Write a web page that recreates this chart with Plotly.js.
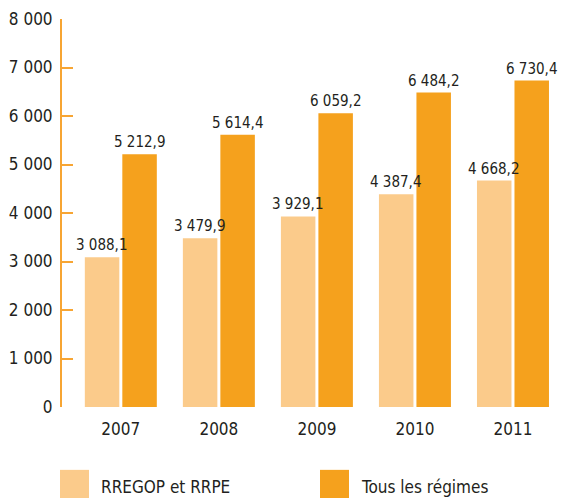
<!DOCTYPE html>
<html><head><meta charset="utf-8">
<script src="https://cdn.plot.ly/plotly-3.0.1.min.js"></script>
<style>html,body{margin:0;padding:0;background:#fff}#chart{width:569px;height:500px}</style>
</head><body><div id="chart"></div>
<script>
const years = ['2007','2008','2009','2010','2011'];
const rregop = [3088.1, 3479.9, 3929.1, 4387.4, 4668.2];
const tous = [5212.9, 5614.4, 6059.2, 6484.2, 6730.4];
const seriesNames = ['RREGOP et RRPE', 'Tous les régimes'];
const yTicks = [0,1000,2000,3000,4000,5000,6000,7000,8000];

const FONT = '"DejaVu Sans Condensed", sans-serif';
const TXT = '#231f20';
const C1 = '#fbcb8b', C2 = '#f5a11d', AX = '#f7a533';

const fmt = v => v.toFixed(1).replace('.', ',').replace(/\B(?=(\d{3})+(?!\d))/g, ' ');

const traces = [
  {type:'bar', x:years, y:rregop, name:seriesNames[0], marker:{color:C1}, hoverinfo:'skip'},
  {type:'bar', x:years, y:tous, name:seriesNames[1], marker:{color:C2}, hoverinfo:'skip'}
];

const labelAnn = [];
[[rregop, -18.75], [tous, 18.75]].forEach(([vals, dx]) => {
  vals.forEach((v, i) => labelAnn.push({
    xref:'x', yref:'y', x:i, y:v, xshift:dx, yshift:1,
    xanchor:'center', yanchor:'bottom', text:fmt(v), showarrow:false,
    font:{family:FONT, size:15, color:TXT}
  }));
});

const layout = {
  width:569, height:500,
  margin:{l:62, r:7, t:19, b:93},
  barmode:'group', bargap:0.235, bargroupgap:0.08,
  showlegend:false,
  paper_bgcolor:'#fff', plot_bgcolor:'#fff',
  font:{family:FONT, color:TXT},
  separators:', ',
  xaxis:{type:'category', range:[-0.6,4.5], showline:false, ticks:'', showgrid:false,
         tickfont:{family:FONT, size:17, color:TXT}, ticklabelstandoff:10},
  yaxis:{range:[0,8000], tickvals:yTicks, tickformat:',d', showgrid:false, zeroline:false,
         showline:true, linecolor:AX, linewidth:2, ticks:'inside', ticklen:11, tickwidth:2,
         tickcolor:AX, tickfont:{family:FONT, size:17, color:TXT}, ticklabelstandoff:4},
  shapes:[
    {type:'rect', xref:'paper', yref:'paper', x0:-0.004, x1:0.054, y0:-0.2345, y1:-0.162, fillcolor:C1, line:{width:0}},
    {type:'rect', xref:'paper', yref:'paper', x0:0.516, x1:0.574, y0:-0.2345, y1:-0.162, fillcolor:C2, line:{width:0}}
  ],
  annotations: labelAnn.concat([
    {xref:'paper', yref:'paper', x:0.074, y:-0.205, xanchor:'left', yanchor:'middle', text:seriesNames[0], showarrow:false, font:{family:FONT, size:17, color:TXT}},
    {xref:'paper', yref:'paper', x:0.594, y:-0.205, xanchor:'left', yanchor:'middle', text:seriesNames[1], showarrow:false, font:{family:FONT, size:17, color:TXT}}
  ])
};
Plotly.newPlot('chart', traces, layout, {displayModeBar:false, staticPlot:true});
</script></body></html>
